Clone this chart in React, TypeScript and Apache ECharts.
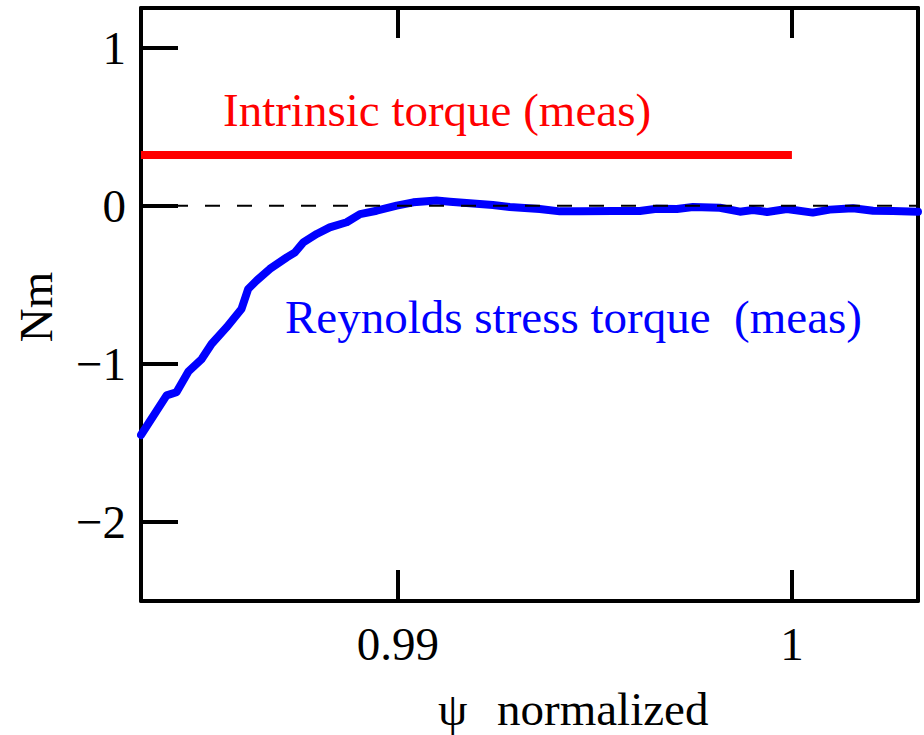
import React, { useEffect, useRef } from 'react';
import * as echarts from 'echarts';

const X_MIN = 0.98348;
const X_MAX = 1.0032;
const Y_MIN = -2.5;
const Y_MAX = 1.25;

const xTicks = [0.99, 1];
const xTickLabels = ['0.99', '1'];
const yTicks = [1, 0, -1, -2];
const yTickLabels = ['1', '0', '\u22121', '\u22122'];

const psiValues = [
  0.98348, 0.98413, 0.98438, 0.98468, 0.98502, 0.98527, 0.98565, 0.98603, 0.9862, 0.98641,
  0.98675, 0.98718, 0.98739, 0.9876, 0.98794, 0.98827, 0.9887, 0.98904, 0.98946, 0.98997,
  0.99039, 0.99098, 0.99132, 0.99174, 0.99241, 0.99284, 0.9936, 0.99411, 0.99462, 0.99546,
  0.99614, 0.99657, 0.99708, 0.99749, 0.99817, 0.99868, 0.99901, 0.99937, 0.99987, 1.00053,
  1.00096, 1.00155, 1.00206, 1.00256, 1.0032,
];
const reynoldsValues = [
  -1.45, -1.2, -1.18, -1.05, -0.97, -0.875, -0.77, -0.654, -0.527, -0.475,
  -0.4, -0.327, -0.295, -0.232, -0.179, -0.137, -0.105, -0.053, -0.032, 0.0,
  0.021, 0.032, 0.025, 0.017, 0.004, -0.008, -0.021, -0.036, -0.036, -0.034,
  -0.034, -0.019, -0.021, -0.008, -0.013, -0.038, -0.027, -0.04, -0.021, -0.044,
  -0.025, -0.016, -0.032, -0.034, -0.038,
];
const intrinsicX = [X_MIN, 1.0];
const intrinsicY = [0.32, 0.32];
const zeroX = [X_MIN, X_MAX];
const zeroY = [0, 0];

const FONT = '"Liberation Serif", "Times New Roman", serif';
const FS = 47;

export default function App() {
  const ref = useRef<HTMLDivElement>(null);
  useEffect(() => {
    if (!ref.current) return;
    const chart = echarts.init(ref.current, undefined, { renderer: 'svg' });
    const axisLine = { show: true, onZero: false, lineStyle: { color: '#000', width: 4 } };
    const common = { type: 'value' as const, min: X_MIN, max: X_MAX, splitLine: { show: false } };
    chart.setOption({
      animation: false,
      backgroundColor: '#fff',
      grid: { left: 141, top: 8, right: 6, bottom: 134, containLabel: false },
      xAxis: [
        {
          ...common,
          position: 'bottom',
          axisLine,
          axisTick: { show: true, inside: true, length: 31, lineStyle: { color: '#000', width: 4 }, customValues: xTicks },
          axisLabel: {
            show: true,
            customValues: xTicks,
            formatter: (v: number) => xTickLabels[xTicks.findIndex((t) => Math.abs(t - v) < 1e-9)] ?? '',
            color: '#000',
            fontFamily: FONT,
            fontSize: FS,
            margin: 19,
          },
        },
        {
          ...common,
          position: 'top',
          axisLine,
          axisTick: { show: true, inside: true, length: 30, lineStyle: { color: '#000', width: 4 }, customValues: xTicks },
          axisLabel: { show: false },
        },
      ],
      yAxis: [
        {
          type: 'value',
          min: Y_MIN,
          max: Y_MAX,
          position: 'left',
          splitLine: { show: false },
          axisLine,
          axisTick: { show: true, inside: true, length: 37, lineStyle: { color: '#000', width: 4 }, customValues: yTicks },
          axisLabel: {
            show: true,
            customValues: yTicks,
            formatter: (v: number) => yTickLabels[yTicks.findIndex((t) => Math.abs(t - v) < 1e-9)] ?? '',
            color: '#000',
            fontFamily: FONT,
            fontSize: FS,
            margin: 15,
          },
        },
        {
          type: 'value',
          min: Y_MIN,
          max: Y_MAX,
          position: 'right',
          splitLine: { show: false },
          axisLine,
          axisTick: { show: false },
          axisLabel: { show: false },
        },
      ],
      series: [
        {
          name: 'Intrinsic torque (meas)',
          type: 'line',
          data: intrinsicX.map((x, i) => [x, intrinsicY[i]]),
          showSymbol: false,
          lineStyle: { color: '#ff0000', width: 8 },
          z: 3,
        },
        {
          name: 'Reynolds stress torque (meas)',
          type: 'line',
          data: psiValues.map((x, i) => [x, reynoldsValues[i]]),
          showSymbol: false,
          lineStyle: { color: '#0000ff', width: 8, join: 'round', cap: 'round' },
          z: 3,
        },
        {
          name: 'zero',
          type: 'line',
          data: zeroX.map((x, i) => [x, zeroY[i]]),
          showSymbol: false,
          lineStyle: { color: '#000', width: 2, type: [15, 17] },
          z: 4,
        },
      ],
      graphic: [
        {
          type: 'text',
          x: 223,
          y: 110,
          style: { text: 'Intrinsic torque (meas)', fill: '#ff0000', font: `${FS}px ${FONT}`, align: 'left', verticalAlign: 'middle' },
        },
        {
          type: 'text',
          x: 285,
          y: 317,
          style: { text: 'Reynolds stress torque  (meas)', fill: '#0000ff', font: `${FS}px ${FONT}`, align: 'left', verticalAlign: 'middle' },
        },
        {
          type: 'text',
          x: 438,
          y: 709,
          style: { text: '\u03c8', fill: '#000', font: `${FS}px ${FONT}`, lineHeight: 40, align: 'left', verticalAlign: 'middle' },
        },
        {
          type: 'text',
          x: 497,
          y: 709,
          style: { text: 'normalized', fill: '#000', font: `${FS}px ${FONT}`, lineHeight: 40, align: 'left', verticalAlign: 'middle' },
        },
        {
          type: 'text',
          x: 36,
          y: 307,
          rotation: Math.PI / 2,
          style: { text: 'Nm', fill: '#000', font: `${FS}px ${FONT}`, align: 'center', verticalAlign: 'middle' },
        },
      ],
    });
    return () => chart.dispose();
  }, []);
  return <div ref={ref} style={{ position: 'fixed', left: 0, top: 0, width: 924, height: 735 }} />;
}
